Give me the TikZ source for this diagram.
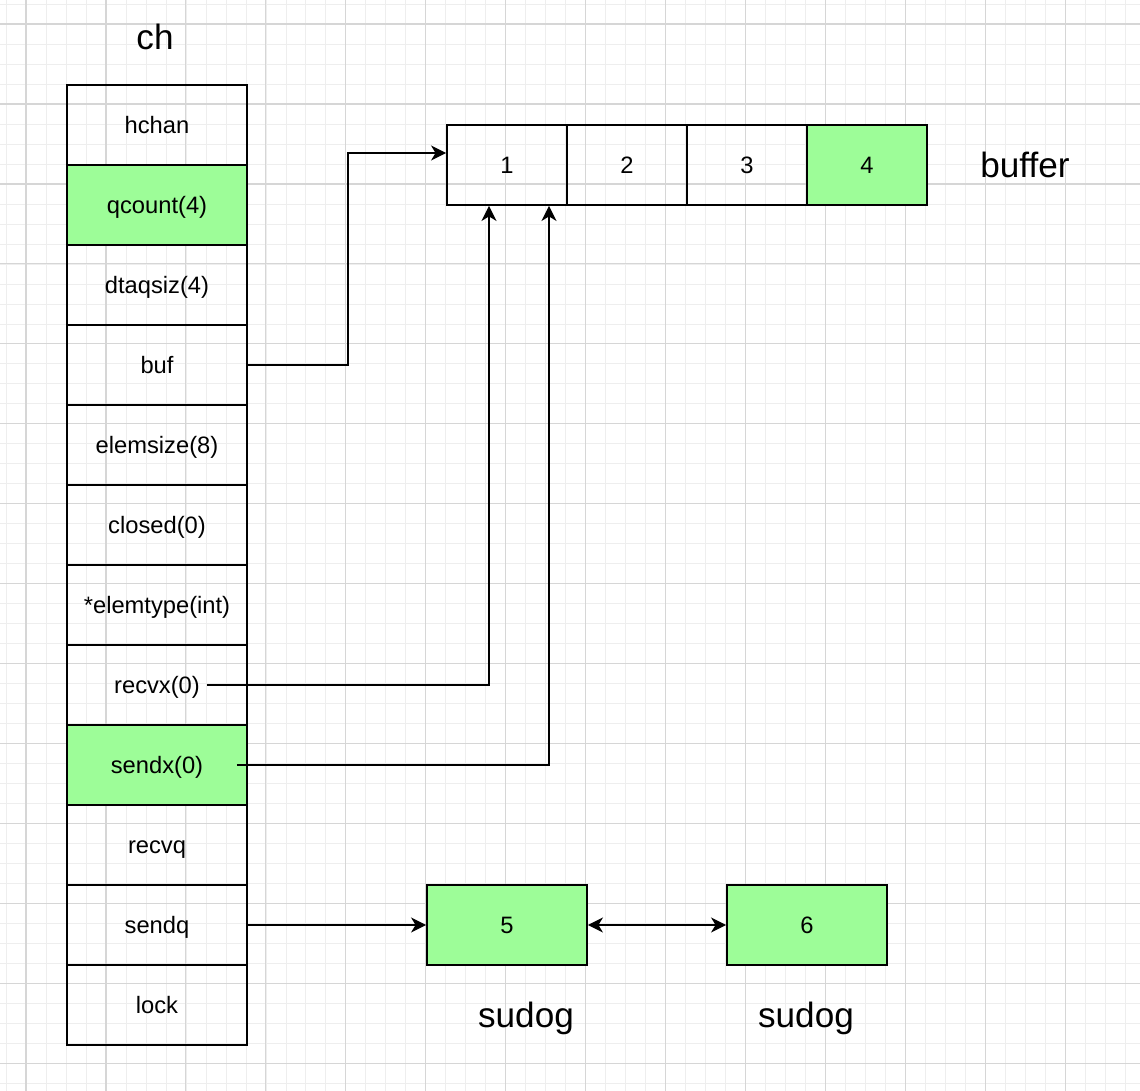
\documentclass[tikz,border=0pt]{standalone}
\usepackage{fontspec}
\setmainfont{Liberation Sans}
\usetikzlibrary{arrows.meta}
\definecolor{cellgreen}{RGB}{157,253,152}
\definecolor{gridminor}{RGB}{238,238,238}
\definecolor{gridmajor}{RGB}{214,214,214}

\begin{document}
\begin{tikzpicture}[x=0.02cm,y=-0.02cm,
  field/.style={draw,line width=1.1pt,minimum width=3.6cm,minimum height=1.6cm,inner sep=0pt,text height=12pt,text depth=2.9pt,font=\fontsize{13.5}{16}\selectfont},
  slot/.style={field,minimum width=2.4cm},
  waiter/.style={field,minimum width=3.2cm,fill=cellgreen},
  caption/.style={font=\fontsize{20}{24}\selectfont},
  tip/.tip={Stealth[length=0.3cm,width=0.3cm,inset=0.09cm]},
  link/.style={line width=0.9pt,-tip}]
\useasboundingbox[fill=white] (0,0) rectangle (1140,1090);
% grid
\begin{scope}
\clip (0,0) rectangle (1140,1090);
\draw[gridminor,line width=0.5pt,shift={(6,4)},step=0.4cm] (-40,-40) grid (1200,1200);
\draw[gridmajor,line width=0.6pt,shift={(26,24)},step=1.6cm] (-80,-80) grid (1200,1200);
\end{scope}
% hchan
\node[caption] (chlabel) at (155,37) {ch};
\node[field] (hchan) at (157,125) {hchan};
\node[field,fill=cellgreen] (qcount) at (157,205) {qcount(4)};
\node[field] (dataqsiz) at (157,285) {dtaqsiz(4)};
\node[field] (buf) at (157,365) {buf};
\node[field] (elemsize) at (157,445) {elemsize(8)};
\node[field] (closed) at (157,525) {closed(0)};
\node[field] (elemtype) at (157,605) {*elemtype(int)};
\node[field] (recvx) at (157,685) {recvx(0)};
\node[field,fill=cellgreen] (sendx) at (157,765) {sendx(0)};
\node[field] (recvq) at (157,845) {recvq};
\node[field] (sendq) at (157,925) {sendq};
\node[field] (lock) at (157,1005) {lock};
% buffer
\node[slot] (c1) at (507,165) {1};
\node[slot] (c2) at (627,165) {2};
\node[slot] (c3) at (747,165) {3};
\node[slot,fill=cellgreen] (c4) at (867,165) {4};
\node[caption] (buflabel) at (1025,165) {buffer};
% sudog
\node[waiter] (s5) at (507,925) {5};
\node[waiter] (s6) at (807,925) {6};
\node[caption] (sudoga) at (526,1018) {sudog};
\node[caption] (sudogb) at (806,1018) {sudog};
% links
\draw[link] (buf.east) -- ++(100,0) |- ([yshift=0.24cm]c1.west);
\draw[link] ([xshift=1cm]recvx.center) -| ([xshift=-0.36cm]c1.south);
\draw[link] ([xshift=1.6cm]sendx.center) -| ([xshift=0.84cm]c1.south);
\draw[link] (sendq.east) -- (s5.west);
\draw[link,tip-tip] (s5.east) -- (s6.west);
\end{tikzpicture}
\end{document}
